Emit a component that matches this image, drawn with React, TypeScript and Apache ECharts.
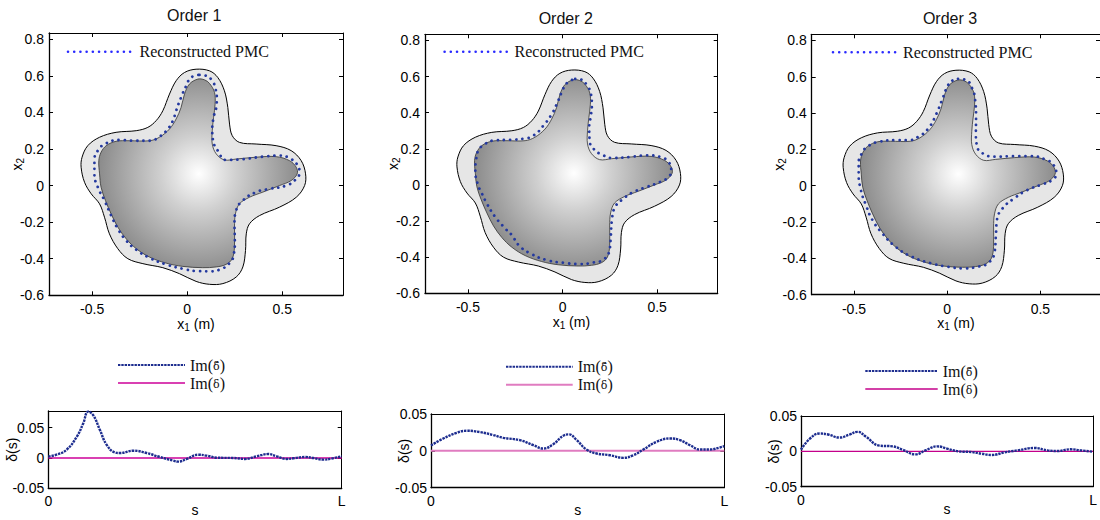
import React, { useEffect, useRef } from 'react';
import * as echarts from 'echarts';

// ---------------- data ----------------
const PANEL_TITLES = ['Order 1', 'Order 2', 'Order 3'];
const X1_TICKS = [-0.5, 0, 0.5];
const X2_TICKS = [-0.6, -0.4, -0.2, 0, 0.2, 0.4, 0.6, 0.8];
const DELTA_TICKS = [-0.05, 0, 0.05];
const S_TICKS = [0, 1];
const S_LABELS = ['0', 'L'];
const X1_RANGE = [-0.727, 0.82];
const X2_RANGE = [-0.6, 0.834];
const DELTA_MIN = -0.05;
const DELTA_MAX = [0.0775, 0.05, 0.05];

// true PMC boundary (inner, shaded)
const TRUE_SHAPE = [
  [0.056, 0.582], [0.012, 0.555], [-0.014, 0.5], [-0.032, 0.427], [-0.058, 0.364], [-0.093, 0.309],
  [-0.146, 0.264], [-0.198, 0.245], [-0.304, 0.245], [-0.374, 0.242], [-0.426, 0.218], [-0.453, 0.182],
  [-0.465, 0.136], [-0.461, 0.064], [-0.453, -0.009], [-0.43, -0.082], [-0.4, -0.155], [-0.365, -0.227],
  [-0.321, -0.291], [-0.268, -0.345], [-0.198, -0.391], [-0.111, -0.424], [-0.023, -0.442], [0.082, -0.449],
  [0.153, -0.445], [0.205, -0.431], [0.237, -0.4], [0.249, -0.336], [0.249, -0.227], [0.254, -0.155],
  [0.275, -0.1], [0.328, -0.064], [0.398, -0.036], [0.486, 0], [0.547, 0.027], [0.579, 0.064],
  [0.574, 0.1], [0.539, 0.136], [0.468, 0.158], [0.363, 0.155], [0.258, 0.145], [0.196, 0.14],
  [0.153, 0.173], [0.132, 0.227], [0.132, 0.3], [0.139, 0.373], [0.147, 0.445], [0.144, 0.509],
  [0.118, 0.558], [0.091, 0.578],
];

// outer boundary (light grey band)
const OUTER_BOUND = [
  [0.047, 0.636], [-0.014, 0.618], [-0.058, 0.573], [-0.093, 0.5], [-0.128, 0.409], [-0.163, 0.355],
  [-0.207, 0.318], [-0.268, 0.3], [-0.374, 0.291], [-0.461, 0.264], [-0.523, 0.218], [-0.553, 0.155],
  [-0.558, 0.1], [-0.54, 0.018], [-0.505, -0.045], [-0.461, -0.1], [-0.435, -0.173], [-0.409, -0.264],
  [-0.365, -0.345], [-0.312, -0.4], [-0.233, -0.427], [-0.128, -0.449], [-0.04, -0.482], [0.047, -0.524],
  [0.118, -0.54], [0.188, -0.536], [0.258, -0.5], [0.293, -0.445], [0.307, -0.355], [0.311, -0.264],
  [0.328, -0.209], [0.381, -0.164], [0.486, -0.118], [0.574, -0.064], [0.618, 0], [0.623, 0.064],
  [0.6, 0.136], [0.547, 0.191], [0.468, 0.218], [0.363, 0.227], [0.275, 0.236], [0.237, 0.273],
  [0.223, 0.336], [0.214, 0.427], [0.196, 0.518], [0.161, 0.591], [0.118, 0.627],
];

const RECON_ORDER1 = [
  [0.065, 0.605], [0.1, 0.6], [0.132, 0.573], [0.147, 0.536], [0.156, 0.482], [0.153, 0.427],
  [0.139, 0.373], [0.132, 0.3], [0.139, 0.236], [0.161, 0.191], [0.205, 0.14], [0.293, 0.144],
  [0.398, 0.158], [0.486, 0.164], [0.547, 0.145], [0.582, 0.109], [0.591, 0.073], [0.574, 0.036],
  [0.521, 0], [0.433, -0.018], [0.363, -0.036], [0.293, -0.082], [0.258, -0.136], [0.249, -0.209],
  [0.251, -0.3], [0.244, -0.382], [0.223, -0.424], [0.17, -0.46], [0.118, -0.469], [0.047, -0.467],
  [-0.023, -0.455], [-0.111, -0.431], [-0.198, -0.395], [-0.268, -0.351], [-0.321, -0.3], [-0.365, -0.236],
  [-0.4, -0.164], [-0.435, -0.082], [-0.47, -0.009], [-0.488, 0.064], [-0.488, 0.136], [-0.47, 0.191],
  [-0.426, 0.231], [-0.356, 0.249], [-0.268, 0.245], [-0.198, 0.245], [-0.146, 0.267], [-0.102, 0.309],
  [-0.075, 0.355], [-0.058, 0.409], [-0.032, 0.482], [-0.005, 0.545], [0.021, 0.591],
];

const RECON_ORDER2 = [
  [0.067, 0.587], [0.102, 0.582], [0.129, 0.551], [0.15, 0.505], [0.155, 0.44], [0.15, 0.385],
  [0.141, 0.32], [0.143, 0.247], [0.164, 0.2], [0.208, 0.168], [0.269, 0.149], [0.357, 0.155],
  [0.445, 0.164], [0.516, 0.155], [0.56, 0.127], [0.574, 0.081], [0.56, 0.044], [0.516, 0.017],
  [0.445, -0.011], [0.375, -0.039], [0.322, -0.076], [0.278, -0.122], [0.261, -0.195], [0.255, -0.287],
  [0.248, -0.361], [0.217, -0.413], [0.164, -0.429], [0.093, -0.438], [0.005, -0.431], [-0.083, -0.416],
  [-0.171, -0.379], [-0.232, -0.333], [-0.268, -0.278], [-0.303, -0.241], [-0.356, -0.177], [-0.4, -0.103],
  [-0.426, -0.048], [-0.449, 0.007], [-0.461, 0.081], [-0.456, 0.145], [-0.444, 0.192], [-0.408, 0.228],
  [-0.356, 0.247], [-0.276, 0.25], [-0.206, 0.256], [-0.153, 0.274], [-0.1, 0.33], [-0.056, 0.394],
  [-0.026, 0.459], [-0.004, 0.514], [0.023, 0.564],
];

const RECON_ORDER3 = [
  [0.058, 0.589], [0.102, 0.582], [0.134, 0.536], [0.15, 0.472], [0.155, 0.38], [0.154, 0.288],
  [0.161, 0.215], [0.191, 0.178], [0.253, 0.16], [0.359, 0.163], [0.447, 0.163], [0.527, 0.145],
  [0.571, 0.114], [0.585, 0.068], [0.562, 0.031], [0.5, 0.004], [0.429, -0.024], [0.359, -0.07],
  [0.297, -0.125], [0.267, -0.189], [0.261, -0.281], [0.253, -0.372], [0.217, -0.428], [0.164, -0.446],
  [0.094, -0.455], [0.005, -0.446], [-0.083, -0.428], [-0.189, -0.391], [-0.277, -0.336], [-0.348, -0.262],
  [-0.401, -0.189], [-0.436, -0.106], [-0.463, -0.024], [-0.475, 0.068], [-0.475, 0.123], [-0.458, 0.178],
  [-0.428, 0.215], [-0.366, 0.242], [-0.277, 0.251], [-0.207, 0.251], [-0.154, 0.27], [-0.101, 0.316],
  [-0.057, 0.398], [-0.021, 0.49], [0.005, 0.554], [0.032, 0.582],
];

const DELTA_ORDER1 = [
  [0, 0.0025], [0.028, 0.0054], [0.0625, 0.0136], [0.097, 0.035], [0.119, 0.057], [0.136, 0.0765],
  [0.153, 0.0707], [0.176, 0.046], [0.199, 0.0217], [0.227, 0.0092], [0.244, 0.0082], [0.29, 0.012],
  [0.335, 0.0082], [0.38, 0.0016], [0.426, -0.0043], [0.443, -0.006], [0.472, -0.0016], [0.511, 0.0054],
  [0.54, 0.0038], [0.574, 0.0005], [0.63, 0], [0.67, -0.0016], [0.71, 0.0027], [0.75, 0.0065],
  [0.778, 0.0027], [0.8125, -0.0016], [0.835, -0.0005], [0.875, 0.0016], [0.903, 0], [0.9375, -0.0027],
  [0.966, -0.001], [1, 0.003],
];

const DELTA_ORDER2 = [
  [0, 0.0073], [0.042, 0.0168], [0.0875, 0.0245], [0.1216, 0.0273], [0.167, 0.0255], [0.2125, 0.0214],
  [0.2466, 0.0177], [0.303, 0.0145], [0.349, 0.0077], [0.383, 0.0032], [0.417, 0.0091], [0.451, 0.0205],
  [0.47, 0.0223], [0.497, 0.0145], [0.53, 0.0018], [0.565, -0.0036], [0.61, -0.0059], [0.656, -0.0095],
  [0.69, -0.0059], [0.724, 0.0018], [0.769, 0.0123], [0.815, 0.0168], [0.849, 0.0145], [0.883, 0.0077],
  [0.917, 0.0018], [0.951, 0.0018], [0.985, 0.0045], [1, 0.0064],
];

const DELTA_ORDER3 = [
  [0, 0.0025], [0.0305, 0.018], [0.064, 0.0252], [0.093, 0.0238], [0.132, 0.0195], [0.166, 0.0238],
  [0.194, 0.0276], [0.223, 0.0205], [0.268, 0.0081], [0.313, 0.0071], [0.347, 0.0024], [0.392, -0.0043],
  [0.426, 0.0014], [0.466, 0.0071], [0.5, 0.0038], [0.539, 0], [0.584, -0.001], [0.618, -0.0033],
  [0.652, -0.0052], [0.697, -0.0014], [0.742, 0.0014], [0.799, 0.0048], [0.844, 0.0014], [0.878, 0.0005],
  [0.923, 0.0029], [0.957, 0.0014], [1, -0.0005],
];

const ZERO_LINE = [[0, 0], [1, 0]];
const SHADE_CENTER = [0.06, 0.065];

const NAME_RECON = 'Reconstructed PMC';
const NAME_BAR = 'Im(\u03b4\u0304)';
const NAME_TRUE = 'Im(\u03b4)';

// ---------------- layout / style ----------------
const FONT_SANS = '"Liberation Sans", Arial, Helvetica, sans-serif';
const FONT_SERIF = '"Liberation Serif", "Times New Roman", serif';

const TOP_GRIDS = [
  { left: 49, top: 33, width: 294, height: 262.3 },
  { left: 425, top: 34.3, width: 292.7, height: 259 },
  { left: 811.7, top: 34.3, width: 292.3, height: 260.4 },
];
const BOTTOM_GRIDS = [
  { left: 48.3, top: 411, width: 293.4, height: 77.3 },
  { left: 431, top: 414, width: 293.3, height: 73.7 },
  { left: 801, top: 416, width: 295.7, height: 70.7 },
];
const TITLE_POS = [
  { x: 194.2, y: 7 },
  { x: 565.8, y: 10 },
  { x: 950, y: 10 },
];
const TOP_LEGEND_POS = [
  { left: 66.7, top: 43.7, w: 66.6 },
  { left: 443.3, top: 43.7, w: 65 },
  { left: 831.7, top: 44.3, w: 65 },
];
const BOTTOM_LEGEND_POS = [
  { left: 117, top: 357, w: 67 },
  { left: 505, top: 358.7, w: 66.7 },
  { left: 864.3, top: 363, w: 72.4 },
];
const BOTTOM_Y_NAMEGAP = [29, 20, 20];
const PINK = ['#cc0099', '#e07cc0', '#c4008a'];
const PINK_WIDTH = [1.3, 2, 1.3];
const NAVY = '#1d2d8f';
const DOT_BLUE = '#24399f';

function mkAxis(gridIndex: number, range: number[], ticks: number[], position: string, primary: boolean, extra: any = {}) {
  const { axisLabel: extraLabel, ...rest } = extra;
  return {
    type: 'value',
    gridIndex,
    position,
    min: range[0],
    max: range[1],
    axisLine: { show: true, onZero: false, lineStyle: { color: '#000', width: primary ? 1.3 : 1 } },
    axisTick: { show: true, inside: true, length: 4, customValues: ticks, lineStyle: { color: '#000', width: 1 } },
    axisLabel: {
      show: primary,
      customValues: ticks,
      fontFamily: FONT_SANS,
      fontSize: 14,
      color: '#000',
      margin: 6,
      ...(extraLabel || {}),
    },
    splitLine: { show: false },
    nameLocation: 'middle',
    nameMoveOverlap: false,
    nameTextStyle: {
      fontFamily: FONT_SANS,
      fontSize: 14,
      color: '#000',
      rich: {
        n: { fontFamily: FONT_SANS, fontSize: 14, color: '#000' },
        sub: { fontFamily: FONT_SANS, fontSize: 10, color: '#000', padding: [7, 0, 0, 0] },
      },
    },
    ...rest,
  };
}

function shapeSeries(gi: number, pts: number[][], kind: 'outer' | 'inner') {
  return {
    type: 'custom',
    name: kind === 'outer' ? 'Outer boundary' : 'True PMC',
    coordinateSystem: 'cartesian2d',
    xAxisIndex: 2 * gi,
    yAxisIndex: 2 * gi,
    silent: true,
    data: pts,
    renderItem: (params: any, api: any) => {
      if (params.dataIndex !== 0) return null;
      const points = pts.map((p) => api.coord(p));
      let fill: any = '#e6e6e6';
      if (kind === 'inner') {
        const c = api.coord(SHADE_CENTER);
        const r = api.size([0.56, 0])[0];
        fill = new echarts.graphic.RadialGradient(
          c[0], c[1], r,
          [
            { offset: 0, color: '#ffffff' },
            { offset: 0.35, color: '#d0d0d0' },
            { offset: 1, color: '#848484' },
          ],
          true
        );
      }
      return {
        type: 'polygon',
        shape: { points, smooth: 0.35 },
        style: {
          fill,
          stroke: kind === 'outer' ? '#000' : '#333',
          lineWidth: kind === 'outer' ? 1 : 0.8,
        },
      };
    },
  };
}

function buildOption() {
  const grid: any[] = [...TOP_GRIDS, ...BOTTOM_GRIDS].map((g) => ({ ...g, containLabel: false, show: false }));
  const xAxis: any[] = [];
  const yAxis: any[] = [];
  const series: any[] = [];
  const recon = [RECON_ORDER1, RECON_ORDER2, RECON_ORDER3];
  const deltas = [DELTA_ORDER1, DELTA_ORDER2, DELTA_ORDER3];

  TOP_GRIDS.forEach((_, i) => {
    xAxis.push(mkAxis(i, X1_RANGE, X1_TICKS, 'bottom', true, { name: '{n|x}{sub|1}{n| (m)}', nameGap: 20, axisLabel: { margin: 7 } }));
    xAxis.push(mkAxis(i, X1_RANGE, X1_TICKS, 'top', false));
    yAxis.push(mkAxis(i, X2_RANGE, X2_TICKS, 'left', true, { name: '{n|x}{sub|2}', nameGap: 24, axisLabel: { margin: 5 } }));
    yAxis.push(mkAxis(i, X2_RANGE, X2_TICKS, 'right', false));

    series.push(shapeSeries(i, OUTER_BOUND, 'outer'));
    series.push(shapeSeries(i, TRUE_SHAPE, 'inner'));
    series.push({
      type: 'line',
      name: NAME_RECON,
      xAxisIndex: 2 * i,
      yAxisIndex: 2 * i,
      data: [...recon[i], recon[i][0]],
      smooth: 0.5,
      symbol: 'none',
      silent: true,
      itemStyle: { color: DOT_BLUE },
      lineStyle: { color: DOT_BLUE, width: 2.8, type: [0.01, 6.2], cap: 'round' },
    });
  });

  BOTTOM_GRIDS.forEach((_, j) => {
    const gi = 3 + j;
    const dRange = [DELTA_MIN, DELTA_MAX[j]];
    xAxis.push(mkAxis(gi, [0, 1], S_TICKS, 'bottom', true, {
      name: 's',
      nameGap: 15,
      axisLabel: { margin: 6, formatter: (v: number) => S_LABELS[S_TICKS.indexOf(v)] ?? '' },
    }));
    xAxis.push(mkAxis(gi, [0, 1], S_TICKS, 'top', false));
    yAxis.push(mkAxis(gi, dRange, DELTA_TICKS, 'left', true, { name: '\u03b4(s)', nameGap: BOTTOM_Y_NAMEGAP[j], axisLabel: { margin: 4 } }));
    yAxis.push(mkAxis(gi, dRange, DELTA_TICKS, 'right', false));

    series.push({
      type: 'line',
      name: NAME_TRUE,
      xAxisIndex: 2 * gi,
      yAxisIndex: 2 * gi,
      data: ZERO_LINE,
      symbol: 'none',
      silent: true,
      itemStyle: { color: PINK[j] },
      lineStyle: { color: PINK[j], width: PINK_WIDTH[j] },
    });
    series.push({
      type: 'line',
      name: NAME_BAR,
      xAxisIndex: 2 * gi,
      yAxisIndex: 2 * gi,
      data: deltas[j],
      smooth: 0.45,
      symbol: 'none',
      silent: true,
      itemStyle: { color: NAVY },
      lineStyle: { color: NAVY, width: 2.4, type: [2.4, 0.9] },
    });
  });

  const serifRich = {
    a: { fontFamily: FONT_SERIF, fontSize: 16, color: '#111' },
    d: { fontFamily: '"DejaVu Serif", serif', fontSize: 11, color: '#111', padding: [2, 0, 0, 0] },
  };

  const legend: any[] = [
    ...TOP_LEGEND_POS.map((p) => ({
      data: [NAME_RECON],
      left: p.left,
      top: p.top,
      padding: 0,
      itemWidth: p.w,
      itemHeight: 6,
      selectedMode: false,
      itemStyle: { opacity: 0 },
      textStyle: { fontFamily: FONT_SERIF, fontSize: 16, color: '#111' },
      lineStyle: { color: '#2a2aff', width: 2.6 },
    })),
    ...BOTTOM_LEGEND_POS.map((p, j) => ({
      orient: 'vertical',
      left: p.left,
      top: p.top,
      padding: 0,
      itemGap: 2,
      itemWidth: p.w,
      itemHeight: 8,
      selectedMode: false,
      itemStyle: { opacity: 0 },
      textStyle: { fontFamily: FONT_SERIF, fontSize: 16, color: '#111', rich: serifRich },
      formatter: (name: string) =>
        name === NAME_BAR ? '{a|Im(}{d|\u03b4\u0304}{a|)}' : '{a|Im(}{d|\u03b4}{a|)}',
      data: [
        { name: NAME_BAR, lineStyle: { color: NAVY, width: 2 } },
        { name: NAME_TRUE, lineStyle: { color: PINK[j], width: PINK_WIDTH[j] } },
      ],
    })),
  ];

  const title = PANEL_TITLES.map((t, i) => ({
    text: t,
    left: TITLE_POS[i].x,
    top: TITLE_POS[i].y,
    textAlign: 'center',
    padding: 0,
    textStyle: { fontFamily: FONT_SANS, fontSize: 16, fontWeight: 'normal', color: '#111' },
  }));

  return {
    animation: false,
    backgroundColor: '#ffffff',
    title,
    legend,
    grid,
    xAxis,
    yAxis,
    series,
  };
}

export default function App() {
  const ref = useRef<HTMLDivElement>(null);
  useEffect(() => {
    if (!ref.current) return;
    const chart = echarts.init(ref.current, null, { renderer: 'svg' });
    chart.setOption(buildOption() as any);
    return () => chart.dispose();
  }, []);
  return (
    <div
      ref={ref}
      style={{ position: 'absolute', left: 0, top: 0, width: 1100, height: 520, background: '#fff' }}
    />
  );
}
